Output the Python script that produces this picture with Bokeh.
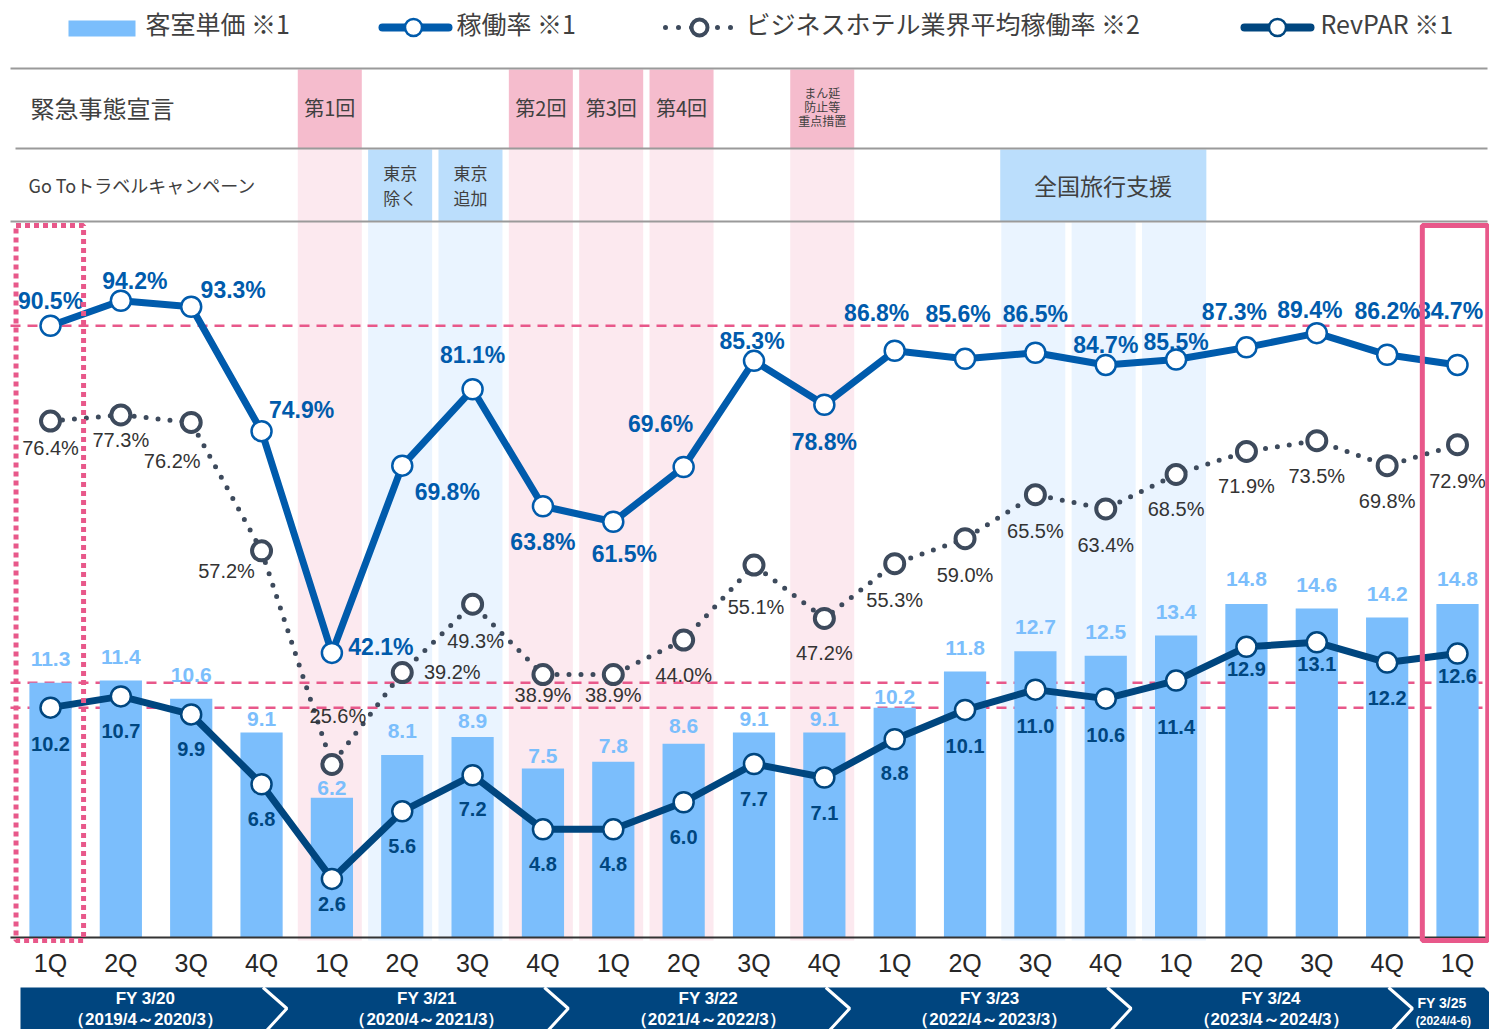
from bokeh.plotting import figure
from bokeh.models import Range1d, ColumnDataSource
from bokeh.core.properties import value
from bokeh.embed import file_html
from bokeh.resources import INLINE

# ---------------- data ----------------
quarters = ["1Q", "2Q", "3Q", "4Q"] * 5 + ["1Q"]
room_rate = [11.3, 11.4, 10.6, 9.1, 6.2, 8.1, 8.9, 7.5, 7.8, 8.6, 9.1, 9.1,
             10.2, 11.8, 12.7, 12.5, 13.4, 14.8, 14.6, 14.2, 14.8]
occupancy = [90.5, 94.2, 93.3, 74.9, 42.1, 69.8, 81.1, 63.8, 61.5, 69.6, 85.3, 78.8,
             86.8, 85.6, 86.5, 84.7, 85.5, 87.3, 89.4, 86.2, 84.7]
industry_occupancy = [76.4, 77.3, 76.2, 57.2, 25.6, 39.2, 49.3, 38.9, 38.9, 44.0, 55.1, 47.2,
                      55.3, 59.0, 65.5, 63.4, 68.5, 71.9, 73.5, 69.8, 72.9]
revpar = [10.2, 10.7, 9.9, 6.8, 2.6, 5.6, 7.2, 4.8, 4.8, 6.0, 7.7, 7.1,
          8.8, 10.1, 11.0, 10.6, 11.4, 12.9, 13.1, 12.2, 12.6]

fy_names = ["FY 3/20", "FY 3/21", "FY 3/22", "FY 3/23", "FY 3/24", "FY 3/25"]
fy_periods = ["（2019/4～2020/3）", "（2020/4～2021/3）", "（2021/4～2022/3）",
              "（2022/4～2023/3）", "（2023/4～2024/3）", "(2024/4-6)"]
fy_sizes = [4, 4, 4, 4, 4, 1]

emergency_quarters = [4, 7, 8, 9, 11]
emergency_labels = ["第1回", "第2回", "第3回", "第4回", "まん延\n防止等\n重点措置"]
goto_quarters = [5, 6]
goto_labels = ["東京\n除く", "東京\n追加"]
support_quarters = [14, 15, 16]
support_label = "全国旅行支援"

row_titles = ["緊急事態宣言", "Go Toトラベルキャンペーン"]
legend_labels = ["客室単価 ※1", "稼働率 ※1", "ビジネスホテル業界平均稼働率 ※2", "RevPAR ※1"]

# ---------------- label offsets (px) ----------------
occ_dx = [0, 14, 42, 40, 49, 45, 0, 0, 11, -23, -2, 0, -18, -7, 0, 0, 0, -12, -7, 0, -7]
occ_dy = [-25, -20, -17, -21, -6, 26, -34, 36, 32, -43, -20, 37, -38, -45, -39, -20, -18, -35, -23, -44, -54]
ind_dx = [0, 0, -19, -35, 6, 50, 3, 0, 0, 0, 2, 0, 0, 0, 0, 0, 0, 0, 0, 0, 0]
ind_dy = [27, 25, 39, 20, -48, -1, 37, 20, 20, 35, 42, 35, 36, 36, 36, 36, 35, 35, 35, 35, 36]
rate_dy = [-24, -24, -24, -13, -10, -24, -16, -13, -16, -18, -13, -13, -11, -24, -24, -24, -24, -25, -24, -24, -25]
rev_dy = [36, 35, 35, 35, 25, 35, 34, 35, 35, 35, 35, 35, 34, 36, 36, 36, 46, 22, 22, 35, 22]

# ---------------- geometry ----------------
W, H = 1489, 1029
X0PX, STEP = 50.0, 70.35      # px of first category centre, px per category
Y0PX, OCC_PX = 937.0, 6.76    # px of baseline, px per % point
RATE_FACTOR = 0.3             # rate axis (0..30) vs occupancy (0..100)


def dx(px):
    return (px - X0PX) / STEP


def dy(py):
    return (Y0PX - py) / OCC_PX


BAR_C = "#7BBEFC"
OCC_C = "#005BAC"
IND_C = "#3D4A5C"
REV_C = "#00467F"
PINK = "#E8588A"
PINK_STRONG = "#F5BCCD"
PINK_LIGHT = "#FCE9EF"
BLUE_STRONG = "#BBDEFC"
BLUE_LIGHT = "#EAF4FF"
NAVY = "#00457F"
TXT = "#404040"
NUM_FONT = value("Liberation Sans")
JP_FONT = value("Noto Sans CJK JP")

p = figure(width=W, height=H, output_backend="svg", toolbar_location=None,
           x_range=Range1d(dx(0), dx(W)), y_range=Range1d(dy(H), dy(0)),
           x_axis_location=None, y_axis_location=None, min_border=0)
p.grid.visible = False
p.outline_line_color = None
p.background_fill_color = "white"
p.extra_y_ranges = {"rate": Range1d(dy(H) * RATE_FACTOR, dy(0) * RATE_FACTOR)}

idx = list(range(len(quarters)))
CW = 0.455   # half width of band cells
SH = -0.03   # band cell shift

# ---------------- bands ----------------
p.quad(left=[i - CW + SH for i in emergency_quarters], right=[i + CW + SH for i in emergency_quarters],
       top=dy(148), bottom=dy(940), fill_color=PINK_LIGHT, line_color=None)
p.quad(left=[i - CW + SH for i in emergency_quarters], right=[i + CW + SH for i in emergency_quarters],
       top=dy(69), bottom=dy(148), fill_color=PINK_STRONG, line_color=None)
blue_cols = goto_quarters + support_quarters
p.quad(left=[i - CW + SH for i in blue_cols], right=[i + CW + SH for i in blue_cols],
       top=dy(222), bottom=dy(940), fill_color=BLUE_LIGHT, line_color=None)
p.quad(left=[i - CW + SH for i in goto_quarters], right=[i + CW + SH for i in goto_quarters],
       top=dy(149), bottom=dy(221), fill_color=BLUE_STRONG, line_color=None)
p.quad(left=[support_quarters[0] - 0.5], right=[support_quarters[-1] + 0.43],
       top=dy(149), bottom=dy(221), fill_color=BLUE_STRONG, line_color=None)

# header row separators
p.segment(x0=[dx(10), dx(15), dx(10)], x1=[dx(1487)] * 3,
          y0=[dy(68), dy(148), dy(221)], y1=[dy(68), dy(148), dy(221)],
          line_color="#9A9A9A", line_width=2)

# header texts
p.text(x=[dx(30)], y=[dy(107)], text=[row_titles[0]], text_font=JP_FONT,
       text_font_size="24px", text_color=TXT, text_align="left", text_baseline="middle")
p.text(x=[dx(28)], y=[dy(184)], text=[row_titles[1]], text_font=JP_FONT,
       text_font_size="18px", text_color=TXT, text_align="left", text_baseline="middle")
p.text(x=[i + SH for i in emergency_quarters[:4]], y=[dy(107)] * 4, text=emergency_labels[:4],
       text_font=JP_FONT, text_font_size="20px", text_color=TXT, text_align="center",
       text_baseline="middle")
p.text(x=[i + SH for i in emergency_quarters[4:]], y=[dy(106)], text=emergency_labels[4:],
       text_font=JP_FONT, text_font_size="12px", text_color=TXT, text_align="center",
       text_baseline="middle", text_line_height=0.83)
p.text(x=[i + SH for i in goto_quarters], y=[dy(184)] * 2, text=goto_labels, text_font=JP_FONT,
       text_font_size="17px", text_color=TXT, text_align="center", text_baseline="middle",
       text_line_height=1.0)
p.text(x=[(support_quarters[0] + support_quarters[-1]) / 2 - 0.04], y=[dy(184)], text=[support_label],
       text_font=JP_FONT, text_font_size="23px", text_color=TXT, text_align="center",
       text_baseline="middle")

# ---------------- reference dashed lines ----------------
p.segment(x0=[dx(10)], x1=[dx(1489)], y0=[occupancy[0]], y1=[occupancy[0]],
          line_color=PINK, line_width=2.5, line_dash="10 7")
p.segment(x0=[dx(10)] * 2, x1=[dx(1489)] * 2, y0=[room_rate[0], revpar[0]],
          y1=[room_rate[0], revpar[0]], line_color=PINK, line_width=2.5, line_dash="10 7",
          y_range_name="rate")

# ---------------- bars ----------------
src = ColumnDataSource(dict(
    x=idx, q=quarters, rate=room_rate, occ=occupancy, ind=industry_occupancy, rev=revpar,
    rate_t=[f"{v:.1f}" for v in room_rate], occ_t=[f"{v:.1f}%" for v in occupancy],
    ind_t=[f"{v:.1f}%" for v in industry_occupancy], rev_t=[f"{v:.1f}" for v in revpar],
    occ_dx=occ_dx, occ_dy=occ_dy, ind_dx=ind_dx, ind_dy=ind_dy, rate_dy=rate_dy, rev_dy=rev_dy,
))
p.vbar(x="x", top="rate", bottom=0, width=0.6, source=src, fill_color=BAR_C,
       line_color=None, y_range_name="rate")

# axis baseline
p.segment(x0=[dx(10)], x1=[dx(1489)], y0=[0], y1=[0], line_color="#333333", line_width=2)

# ---------------- lines ----------------
p.line(x="x", y="ind", source=src, line_color=IND_C, line_width=5, line_dash="0 12",
       line_cap="round")
p.line(x="x", y="occ", source=src, line_color=OCC_C, line_width=7, line_join="round")
p.line(x="x", y="rev", source=src, line_color=REV_C, line_width=7, line_join="round",
       y_range_name="rate")
p.scatter(x="x", y="ind", source=src, size=19, fill_color="white", line_color=IND_C,
          line_width=4)
p.scatter(x="x", y="occ", source=src, size=20, fill_color="white", line_color=OCC_C,
          line_width=2.5)
p.scatter(x="x", y="rev", source=src, size=20, fill_color="white", line_color=REV_C,
          line_width=2.5, y_range_name="rate")

# ---------------- value labels ----------------
p.text(x="x", y="rate", text="rate_t", source=src, y_offset="rate_dy", y_range_name="rate",
       text_font=NUM_FONT, text_font_style="bold", text_font_size="21px", text_color=BAR_C,
       text_align="center", text_baseline="middle")
p.text(x="x", y="ind", text="ind_t", source=src, x_offset="ind_dx", y_offset="ind_dy",
       text_font=NUM_FONT, text_font_size="20px", text_color="#333333",
       text_align="center", text_baseline="middle")
p.text(x="x", y="occ", text="occ_t", source=src, x_offset="occ_dx", y_offset="occ_dy",
       text_font=NUM_FONT, text_font_style="bold", text_font_size="23px", text_color=OCC_C,
       text_align="center", text_baseline="middle")
p.text(x="x", y="rev", text="rev_t", source=src, y_offset="rev_dy", y_range_name="rate",
       text_font=NUM_FONT, text_font_style="bold", text_font_size="20px", text_color=REV_C,
       text_align="center", text_baseline="middle")

# highlight frames
p.quad(left=[0 - 0.49], right=[0 + 0.47], top=[dy(225)], bottom=[dy(940)], fill_color=None,
       line_color=PINK, line_width=5, line_dash="5 4")
p.quad(left=[idx[-1] - 0.5], right=[idx[-1] + 0.43], top=[dy(225)], bottom=[dy(940)],
       fill_color=None, line_color=PINK, line_width=5)

# ---------------- x tick labels ----------------
p.text(x="x", y=dy(962), text="q", source=src, text_font=NUM_FONT, text_font_size="25px",
       text_color="#262626", text_align="center", text_baseline="middle")

# ---------------- fiscal-year ribbon ----------------
top_r, mid_r, bot_r = dy(987), dy(1008), dy(1034)
p.patch(x=[dx(20), idx[-1] + 0.38, idx[-1] + 0.69, idx[-1] + 0.38, dx(20)],
        y=[top_r, top_r, mid_r, bot_r, bot_r], fill_color=NAVY, line_color=None)
bounds = []
acc = 0
for s in fy_sizes[:-1]:
    acc += s
    bounds.append(acc - 0.5)
p.multi_line(xs=[[b - 0.48, b - 0.14, b - 0.48] for b in bounds],
             ys=[[top_r, mid_r, bot_r] for _ in bounds], line_color="white", line_width=3)
starts = [0] + [b + 0.5 for b in bounds]
centres = []
for k, (st, s) in enumerate(zip(starts, fy_sizes)):
    c = st + (s - 1) / 2.0
    centres.append(c)
big_c = [c - 0.15 for c in centres[:-1]]
p.text(x=big_c, y=[dy(998)] * 5, text=fy_names[:-1], text_font=NUM_FONT, text_font_style="bold",
       text_font_size="17px", text_color="white", text_align="center", text_baseline="middle")
p.text(x=big_c, y=[dy(1019)] * 5, text=fy_periods[:-1], text_font=NUM_FONT,
       text_font_style="bold", text_font_size="17px", text_color="white", text_align="center",
       text_baseline="middle")
p.text(x=[centres[-1] - 0.22], y=[dy(1002)], text=[fy_names[-1]], text_font=NUM_FONT,
       text_font_style="bold", text_font_size="14px", text_color="white", text_align="center",
       text_baseline="middle")
p.text(x=[centres[-1] - 0.2], y=[dy(1020)], text=[fy_periods[-1]], text_font=NUM_FONT,
       text_font_style="bold", text_font_size="12px", text_color="white", text_align="center",
       text_baseline="middle")

# ---------------- legend ----------------
ly_line = dy(27)
ly_txt = dy(22)
p.quad(left=[dx(68)], right=[dx(135)], top=[dy(20)], bottom=[dy(36)], fill_color=BAR_C,
       line_color=None)
p.line(x=[dx(382), dx(448)], y=[ly_line, ly_line], line_color=OCC_C, line_width=8, line_cap="round")
p.scatter(x=[dx(413)], y=[ly_line], size=17, fill_color="white", line_color=OCC_C, line_width=2.5)
p.line(x=[dx(665), dx(738)], y=[ly_line, ly_line], line_color=IND_C, line_width=5,
       line_dash="0 13", line_cap="round")
p.scatter(x=[dx(699)], y=[ly_line], size=16, fill_color="white", line_color=IND_C, line_width=4)
p.line(x=[dx(1244), dx(1310)], y=[ly_line, ly_line], line_color=REV_C, line_width=8, line_cap="round")
p.scatter(x=[dx(1277)], y=[ly_line], size=17, fill_color="white", line_color=REV_C, line_width=2.5)
p.text(x=[dx(145), dx(456), dx(745), dx(1320)], y=[ly_txt] * 4, text=legend_labels,
       text_font=JP_FONT, text_font_size="25px", text_color=TXT, text_align="left",
       text_baseline="middle")

open("out.html", "w").write(file_html(p, INLINE))
